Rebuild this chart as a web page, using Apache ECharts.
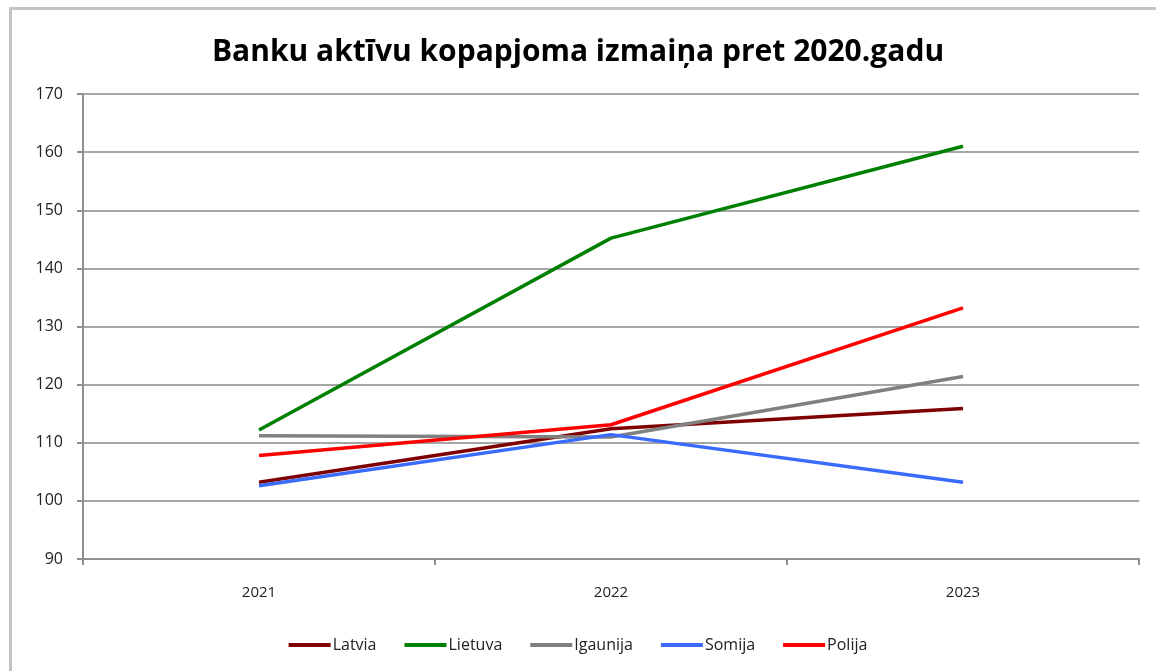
<!DOCTYPE html>
<html>
<head>
<meta charset="utf-8">
<script src="https://cdn.jsdelivr.net/npm/echarts@6/dist/echarts.min.js"></script>
<style>
  html, body { margin: 0; padding: 0; background: #fff; }
  #frame { position: absolute; left: 9px; top: 7px; width: 1160px; height: 680px;
           border-left: 3px solid #c4c4c4; border-top: 3px solid #c4c4c4; }
  #chart { position: absolute; left: 0; top: 0; width: 1156px; height: 671px; }
</style>
</head>
<body>
<div id="frame"></div>
<div id="chart"></div>
<script type="text/javascript">
// gadi
var years = ['2021', '2022', '2023'];
// indekss pret 2020 (=100)
var latvia   = [103.2, 112.4, 115.9];
var lietuva  = [112.2, 145.2, 161.0];
var igaunija = [111.2, 111.0, 121.4];
var somija   = [102.6, 111.4, 103.2];
var polija   = [107.8, 113.1, 133.2];

var seriesNames  = ['Latvia', 'Lietuva', 'Igaunija', 'Somija', 'Polija'];
var seriesData   = [latvia, lietuva, igaunija, somija, polija];
var seriesColors = ['#7f0000', '#008000', '#808080', '#3a6bff', '#ff0000'];

var font = '"Open Sans", "DejaVu Sans", sans-serif';
var chart = echarts.init(document.getElementById('chart'));

chart.setOption({
  animation: false,
  title: {
    text: 'Banku aktīvu kopapjoma izmaiņa pret 2020.gadu',
    left: 'center',
    top: 32,
    textStyle: { fontFamily: font, fontSize: 30, fontWeight: 'bold', color: '#000' }
  },
  legend: {
    bottom: 13,
    left: 'center',
    itemWidth: 42,
    itemHeight: 4,
    itemGap: 28,
    icon: 'rect',
    textStyle: { fontFamily: font, fontSize: 16, color: '#222', padding: [0, 0, 0, -3] },
    data: seriesNames
  },
  grid: { left: 83, right: 17, top: 94, bottom: 112 },
  xAxis: {
    type: 'category',
    data: years,
    boundaryGap: true,
    axisLine: { lineStyle: { color: '#909090', width: 2 } },
    axisTick: { show: true, length: 6, lineStyle: { color: '#909090', width: 2 } },
    axisLabel: { fontFamily: font, fontSize: 15, color: '#222', margin: 26 }
  },
  yAxis: {
    type: 'value',
    min: 90,
    max: 170,
    interval: 10,
    axisLine: { show: true, lineStyle: { color: '#909090', width: 2 } },
    axisTick: { show: true, length: 6, lineStyle: { color: '#909090', width: 2 } },
    axisLabel: { fontFamily: font, fontSize: 16, color: '#222', margin: 20 },
    splitLine: { lineStyle: { color: '#a6a6a6', width: 2 } }
  },
  series: seriesNames.map(function (name, i) {
    return {
      name: name,
      type: 'line',
      data: seriesData[i],
      symbol: 'none',
      color: seriesColors[i],
      lineStyle: { width: 3.5, color: seriesColors[i] }
    };
  })
});
</script>
</body>
</html>
